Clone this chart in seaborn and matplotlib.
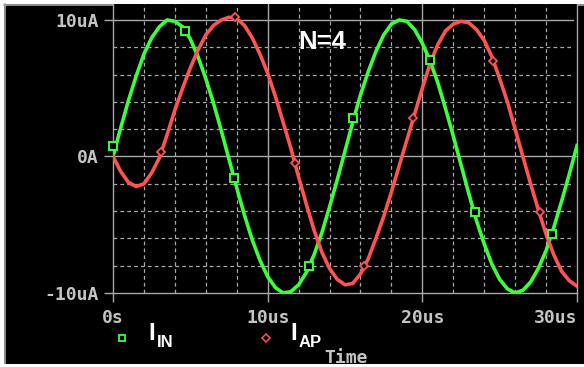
import matplotlib
matplotlib.use("Agg")
import matplotlib.pyplot as plt
import seaborn as sns
import pandas as pd
from matplotlib.lines import Line2D
from matplotlib.patches import Rectangle

# ---- data (time in microseconds, current in microamps) ----
time_us = [0.0, 0.5, 1.0, 1.5, 2.0, 2.5, 3.0, 3.5, 4.0, 4.5,
           5.0, 5.5, 6.0, 6.5, 7.0, 7.5, 8.0, 8.5, 9.0, 9.5,
           10.0, 10.5, 11.0, 11.5, 12.0, 12.5, 13.0, 13.5, 14.0, 14.5,
           15.0, 15.5, 16.0, 16.5, 17.0, 17.5, 18.0, 18.5, 19.0, 19.5,
           20.0, 20.5, 21.0, 21.5, 22.0, 22.5, 23.0, 23.5, 24.0, 24.5,
           25.0, 25.5, 26.0, 26.5, 27.0, 27.5, 28.0, 28.5, 29.0, 29.5, 30.0]

i_in = [0.0, 2.1, 4.1, 5.9, 7.5, 8.7, 9.5, 10.0, 9.9, 9.5,
        8.6, 7.3, 5.7, 3.9, 1.9, -0.2, -2.3, -4.3, -6.1, -7.6,
        -8.8, -9.6, -10.0, -9.9, -9.4, -8.5, -7.2, -5.6, -3.7, -1.7,
        0.4, 2.5, 4.5, 6.2, 7.7, 8.9, 9.7, 10.0, 9.9, 9.3,
        8.3, 7.0, 5.4, 3.5, 1.5, -0.6, -2.7, -4.7, -6.4, -7.9,
        -9.0, -9.7, -10.0, -9.8, -9.2, -8.2, -6.9, -5.2, -3.3, -1.3, 0.8]

i_ap = [0.0, -1.1, -1.9, -2.2, -2.0, -1.2, -0.1, 1.6, 3.4, 5.0,
        6.5, 7.8, 8.9, 9.6, 10.0, 10.2, 10.1, 9.6, 8.7, 7.5,
        6.1, 4.4, 2.5, 0.6, -1.5, -3.5, -5.4, -7.0, -8.2, -9.0,
        -9.4, -9.3, -8.6, -7.5, -6.0, -4.4, -2.6, -0.7, 1.2, 3.1,
        5.0, 6.8, 8.2, 9.2, 9.7, 9.9, 9.8, 9.3, 8.5, 7.3,
        5.7, 4.0, 2.0, 0.0, -2.0, -3.9, -5.7, -7.2, -8.4, -9.1, -9.5]

# symbol markers placed on the traces
in_mark_t = [0.0, 4.65, 7.8, 12.7, 15.5, 20.5, 23.4, 28.4]
in_mark_v = [0.8, 9.2, -1.6, -8.0, 2.8, 7.1, -4.1, -5.7]
ap_mark_t = [3.1, 7.9, 11.75, 16.2, 19.4, 24.6, 27.6]
ap_mark_v = [0.3, 10.2, -0.5, -8.0, 2.8, 7.0, -4.1]

x_ticks = [0, 10, 20, 30]
x_tick_labels = ["0s", "10us", "20us", "30us"]
y_ticks = [-10, 0, 10]
y_tick_labels = ["-10uA", "0A", "10uA"]

labels = ["IN", "AP"]
annotation = "N=4"

# ---- style ----
GREEN = "#3cff3c"
RED = "#ff5252"
GRID = "#a8a8a8"
TEXT_GRAY = "#c4c4c4"
MONO = {"family": "DejaVu Sans Mono", "weight": "bold", "size": 13}

W, H = 584, 367


def fx(px):
    return px / W


def fy(py):
    return 1 - py / H


fig = plt.figure(figsize=(W / 100, H / 100), dpi=100, facecolor="white")

# black probe window with a light frame on top and left
fig.patches.append(Rectangle((fx(4), fy(364)), fx(584) - fx(4), fy(4) - fy(364),
                             transform=fig.transFigure, facecolor="black",
                             edgecolor="none", zorder=-5))
fig.add_artist(Line2D([fx(4), fx(584)], [fy(4.5), fy(4.5)], color=GRID, lw=1.2,
                      transform=fig.transFigure, zorder=-4))
fig.add_artist(Line2D([fx(4.5), fx(4.5)], [fy(4), fy(364)], color=GRID, lw=1.2,
                      transform=fig.transFigure, zorder=-4))

ax = fig.add_axes([fx(113), fy(293), fx(577) - fx(113), fy(4) - fy(293)])
ax.set_zorder(1)
ax.set_facecolor("black")
ax.set_xlim(0, 30)
ax.set_ylim(-10, 11.17)
for s in ax.spines.values():
    s.set_visible(False)

# grid: solid major lines, dashed minor divisions
dash = (0, (3, 2.5))
for t in range(2, 30, 2):
    if t % 10:
        ax.axvline(t, color=GRID, lw=0.9, ls=dash, zorder=1)
for t in x_ticks:
    ax.axvline(t, color=GRID, lw=1.0, zorder=1, clip_on=False)
for v in [-8, -6, -4, -2, 2, 4, 6, 8]:
    ax.axhline(v, xmax=0.992, color=GRID, lw=0.9, ls=dash, zorder=1)
for v in [-10, 0, 10]:
    ax.axhline(v, xmax=0.992 if v == 10 else 1, color=GRID, lw=1.0, zorder=1,
               clip_on=False)

df = pd.DataFrame({"t": time_us, "in": i_in, "ap": i_ap})
sns.lineplot(data=df, x="t", y="in", color=GREEN, lw=2.6, ax=ax,
             estimator=None, sort=False, zorder=3)
sns.lineplot(data=df, x="t", y="ap", color=RED, lw=2.6, ax=ax,
             estimator=None, sort=False, zorder=3)
ax.plot(in_mark_t, in_mark_v, ls="none", marker="s", ms=5.5, mfc="black",
        mec=GREEN, mew=1.4, zorder=4, clip_on=False)
ax.plot(ap_mark_t, ap_mark_v, ls="none", marker="D", ms=4.5, mfc="black",
        mec=RED, mew=1.3, zorder=4, clip_on=False)

ax.set_xlabel("")
ax.set_ylabel("")
ax.set_xticks(x_ticks)
ax.set_xticklabels(x_tick_labels, fontdict=MONO, color=TEXT_GRAY)
ax.set_yticks(y_ticks)
ax.set_yticklabels(y_tick_labels, fontdict=MONO, color=TEXT_GRAY)
ax.tick_params(axis="both", colors=GRID, length=6.5, width=1.0, direction="out")
ax.tick_params(axis="x", pad=5)
ax.tick_params(axis="y", pad=4)
for lab in ax.get_xticklabels():
    lab.set_color(TEXT_GRAY)
for lab in ax.get_yticklabels():
    lab.set_color(TEXT_GRAY)
ax.get_xticklabels()[-1].set_horizontalalignment("right")

ax.text(0.5 * (297 + 348 - 226) / 15.47, 10 - (42 - 20) / 13.65, annotation,
        color="white", fontsize=18.5, fontweight="bold", family="Liberation Sans",
        ha="center", va="center", zorder=5)

# legend row
fig.add_artist(Line2D([fx(122)], [fy(337.5)], ls="none", marker="s", ms=5,
                      mfc="black", mec=GREEN, mew=1.3, transform=fig.transFigure))
fig.add_artist(Line2D([fx(266)], [fy(337.5)], ls="none", marker="D", ms=4,
                      mfc="black", mec=RED, mew=1.1, transform=fig.transFigure))
for x0, sub in [(148.5, labels[0]), (290.5, labels[1])]:
    fig.text(fx(x0), fy(340), "I", color="white", fontsize=17.5, fontweight="bold",
             family="Liberation Sans", va="baseline", ha="left")
    fig.text(fx(x0 + 8), fy(347), sub, color="white", fontsize=12,
             fontweight="bold", family="Liberation Sans", va="baseline", ha="left")

fig.text(fx(346), fy(358), "Time", ha="center", va="center", color=TEXT_GRAY,
         fontdict=MONO)

# white strip along the bottom edge
fig.patches.append(Rectangle((0, 0), 1, fy(364), transform=fig.transFigure,
                             facecolor="white", edgecolor="none", zorder=10))

fig.savefig("out.png", dpi=100, facecolor="white")
